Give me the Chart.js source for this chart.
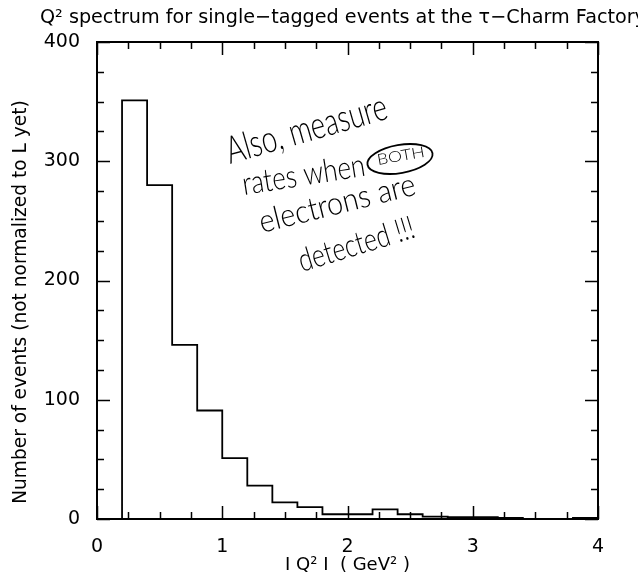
<!DOCTYPE html>
<html><head><meta charset="utf-8">
<script src="https://cdn.jsdelivr.net/npm/chart.js@4.4.0/dist/chart.umd.min.js"></script>
<style>html,body{margin:0;padding:0;background:#fff;overflow:hidden}canvas{display:block}</style>
</head><body>
<canvas id="c" width="638" height="581"></canvas>
<script>
// ---- data ----
const binLeftEdges = [0.2,0.4,0.6,0.8,1.0,1.2,1.4,1.6,1.8,2.0,2.2,2.4,2.6,2.8,3.0,3.2,3.4,3.6,3.8];
const binWidth = 0.2;
const eventCounts = [351,280,146,91,51,28,14,10,4,4,8,4,2,1.5,1.5,1,0,0,1];
const xTickValues = [0,1,2,3,4];
const yTickValues = [0,100,200,300,400];
const xMinorStep = 0.25;
const yMinorStep = 25;
const titleText = 'Q\u00B2 spectrum for single\u2212tagged events at the \u03C4\u2212Charm Factory';
const xAxisTitle = 'I Q\u00B2 I  ( GeV\u00B2 )';
const yAxisTitle = 'Number of events (not normalized to L yet)';
const noteLines = ['Also, measure', 'rates when', 'BOTH', 'electrons are', 'detected !!!'];

// ---- build histogram outline points ----
const histPoints = [{x: binLeftEdges[0], y: 0}];
binLeftEdges.forEach((e, i) => histPoints.push({x: e, y: eventCounts[i]}));
histPoints.push({x: binLeftEdges[binLeftEdges.length-1] + binWidth, y: eventCounts[eventCounts.length-1]});

const FONT = "'DejaVu Sans', 'Liberation Sans', sans-serif";

const decor = {
  id: 'decor',
  afterDatasetsDraw(chart) {
    const ctx = chart.ctx, a = chart.chartArea;
    const xs = chart.scales.x, ys = chart.scales.y;
    ctx.save();
    ctx.strokeStyle = '#000';
    // frame
    ctx.lineWidth = 2;
    ctx.strokeRect(a.left, a.top, a.right - a.left, a.bottom - a.top);
    // ticks (inward, mirrored)
    ctx.lineWidth = 1.5;
    const isMaj = (v, arr) => arr.some(t => Math.abs(t - v) < 1e-6);
    ctx.beginPath();
    for (let v = xs.min; v <= xs.max + 1e-9; v += xMinorStep) {
      const p = Math.round(xs.getPixelForValue(v)) + 0.5;
      const len = isMaj(v, xTickValues) ? 13 : 7;
      ctx.moveTo(p, a.bottom); ctx.lineTo(p, a.bottom - len);
      ctx.moveTo(p, a.top); ctx.lineTo(p, a.top + len);
    }
    for (let v = ys.min; v <= ys.max + 1e-9; v += yMinorStep) {
      const p = Math.round(ys.getPixelForValue(v)) + 0.5;
      const len = isMaj(v, yTickValues) ? 13 : 7;
      ctx.moveTo(a.left, p); ctx.lineTo(a.left + len, p);
      ctx.moveTo(a.right, p); ctx.lineTo(a.right - len, p);
    }
    ctx.stroke();

    ctx.fillStyle = '#000';
    // main title
    ctx.font = '19.2px ' + FONT;
    ctx.textBaseline = 'alphabetic';
    ctx.textAlign = 'left';
    ctx.fillText(titleText, 40, 23);
    // x axis title
    ctx.font = '18px ' + FONT;
    ctx.textAlign = 'center';
    ctx.textBaseline = 'middle';
    ctx.fillText(xAxisTitle, (a.left + a.right) / 2, 565);
    // y axis title
    ctx.save();
    ctx.translate(21, 302);
    ctx.rotate(-Math.PI / 2);
    ctx.font = '18.6px ' + FONT;
    ctx.fillText(yAxisTitle, 0, 0);
    ctx.restore();

    // handwritten note
    const place = [
      {x: 230, y: 164, w: 166, ang: -16, size: 38},
      {x: 244, y: 195, w: 124, ang: -9, size: 32},
      {x: 378, y: 165, w: 48, ang: -10, size: 15},
      {x: 262, y: 233, w: 160, ang: -14, size: 32},
      {x: 302, y: 272, w: 120, ang: -17, size: 32}
    ];
    noteLines.forEach((t, i) => {
      const p = place[i];
      ctx.save();
      ctx.translate(p.x, p.y);
      ctx.rotate(p.ang * Math.PI / 180);
      ctx.font = '300 ' + p.size + "px 'Lato', 'DejaVu Sans', sans-serif";
      ctx.textAlign = 'left';
      ctx.textBaseline = 'alphabetic';
      const m = ctx.measureText(t).width;
      ctx.scale(p.w / m, 1);
      ctx.fillText(t, 0, 0);
      ctx.restore();
      if (t === 'BOTH') {
        ctx.save();
        ctx.translate(p.x + p.w / 2 - 2, p.y - 6);
        ctx.rotate(p.ang * Math.PI / 180);
        ctx.lineWidth = 1.8;
        ctx.beginPath();
        ctx.ellipse(0, 0, 33, 14, 0, 0, Math.PI * 2);
        ctx.stroke();
        ctx.restore();
      }
    });
    ctx.restore();
  }
};

new Chart(document.getElementById('c'), {
  type: 'line',
  data: {
    datasets: [{
      data: histPoints,
      stepped: 'before',
      borderColor: '#000',
      borderWidth: 1.8,
      pointRadius: 0,
      fill: false,
      tension: 0
    }]
  },
  options: {
    responsive: false,
    devicePixelRatio: 1,
    animation: false,
    layout: {padding: {top: 42, right: 40, left: 0, bottom: 0}},
    plugins: {legend: {display: false}, tooltip: {enabled: false}, title: {display: false}},
    scales: {
      x: {
        type: 'linear', min: 0, max: 4,
        afterBuildTicks: s => { s.ticks = xTickValues.map(v => ({value: v})); },
        afterFit: s => { s.height = 62; },
        ticks: {color: '#000', font: {family: FONT, size: 19}, padding: 9, maxRotation: 0},
        grid: {display: false},
        border: {display: false}
      },
      y: {
        type: 'linear', min: 0, max: 400,
        afterBuildTicks: s => { s.ticks = yTickValues.map(v => ({value: v})); },
        afterFit: s => { s.width = 97; },
        ticks: {color: '#000', font: {family: FONT, size: 19}, padding: 9},
        grid: {display: false},
        border: {display: false}
      }
    }
  },
  plugins: [decor]
});
</script>
</body></html>
